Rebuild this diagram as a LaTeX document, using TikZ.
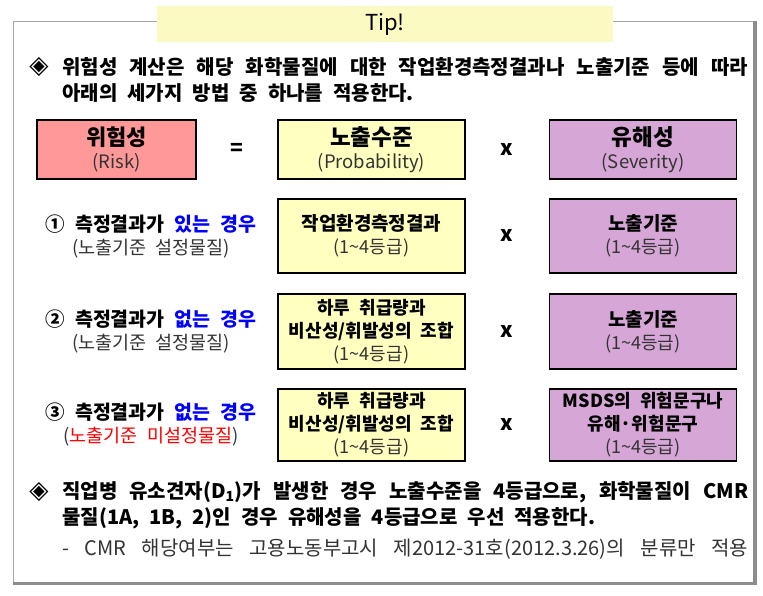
\documentclass[tikz,border=0pt]{standalone}
\usepackage{fontspec}
\setmainfont{Noto Sans CJK KR}[WordSpace=2.2]
\newfontfamily\symfont{DejaVu Sans}
\usetikzlibrary{positioning}
\definecolor{tipyellow}{HTML}{FAFAC2}
\definecolor{riskred}{HTML}{FF9999}
\definecolor{probyellow}{HTML}{FFFFC0}
\definecolor{sevpurple}{HTML}{D6A6D6}
\definecolor{framegray}{HTML}{A6A6A6}
\definecolor{txtgray}{HTML}{333333}
\newcommand{\gradetxt}{{\color{txtgray}(1\textasciitilde 4등급)}}
\begin{document}
\begin{tikzpicture}[x=1pt,y=-1pt,
    line/.style={font=\fontsize{20}{26}\selectfont\bfseries,anchor=west,inner sep=0pt},
    note/.style={font=\fontsize{20}{23}\selectfont,text=txtgray,anchor=west,inner sep=0pt},
    bullet/.style={font=\fontsize{25}{25}\selectfont\symfont,inner sep=0pt},
    calc/.style={draw,line width=1.5pt,minimum width=187pt,align=center,inner sep=0pt,
      font=\fontsize{18}{23}\selectfont},
    riskbox/.style={calc,fill=riskred,minimum width=159pt},
    probbox/.style={calc,fill=probyellow},
    sevbox/.style={calc,fill=sevpurple},
    case/.style={align=center,font=\fontsize{18.5}{23}\selectfont},
    op/.style={font=\fontsize{21}{21}\selectfont\bfseries}]
  \useasboundingbox (0,0) rectangle (763,595);
  % frame with shadow
  \draw[framegray,line width=1pt] (13,21) rectangle (754,582);
  \fill[framegray!85!black] (753,21) rectangle (757,585);
  \fill[framegray!85!black] (13,582) rectangle (757,585);
  \node[fill=tipyellow,minimum width=456pt,minimum height=36pt,
    font=\fontsize{22}{22}\selectfont] (tip) at (385,24) {Tip!};

  \node[bullet] (d1) at (39,67) {◈};
  \node[line] (head1) at (62,67) {\makebox[686pt][s]{위험성 계산은 해당 화학물질에 대한 작업환경측정결과나 노출기준 등에 따라}};
  \node[line] (head2) at (62,93) {아래의 세가지 방법 중 하나를 적용한다.};

  % formula
  \node[riskbox,minimum height=59pt] (risk) at (116.5,149.5)
    {{\fontsize{22}{25}\selectfont\bfseries 위험성}\\{\fontsize{18.5}{23}\selectfont\color{txtgray}(Risk)}};
  \node[probbox,minimum height=59pt] (prob0) at (371.5,149.5)
    {{\fontsize{22.5}{25}\selectfont\bfseries 노출수준}\\{\fontsize{18.5}{23}\selectfont\color{txtgray}(Probability)}};
  \node[sevbox,minimum height=59pt,right=83pt of prob0] (sev0)
    {{\fontsize{22.5}{25}\selectfont\bfseries 유해성}\\{\fontsize{18.5}{23}\selectfont\color{txtgray}(Severity)}};
  \path (risk.east) -- node[op] (eq) {=} (prob0.west);
  \path (prob0.east) -- node[op] (times0) {x} (sev0.west);

  % case 1
  \node[case] (case1) at (151,236)
    {{\fontsize{19.5}{23}\selectfont\bfseries ① 측정결과가 \textcolor{blue}{있는 경우}}\\{\color{txtgray}(노출기준 설정물질)}};
  \node[probbox,minimum height=74pt] (prob1) at (371.5,236)
    {{\fontsize{19}{23}\selectfont\bfseries 작업환경측정결과}\\\gradetxt};
  \node[sevbox,minimum height=74pt,right=83pt of prob1] (sev1)
    {{\fontsize{19}{23}\selectfont\bfseries 노출기준}\\\gradetxt};
  \path (prob1.east) -- node[op] (times1) {x} (sev1.west);

  % case 2
  \node[case] (case2) at (151,331)
    {{\fontsize{19.5}{23}\selectfont\bfseries ② 측정결과가 \textcolor{blue}{없는 경우}}\\{\color{txtgray}(노출기준 설정물질)}};
  \node[probbox,minimum height=75pt] (prob2) at (371.5,331.5)
    {{\bfseries 하루 취급량과}\\{\bfseries 비산성/휘발성의 조합}\\\gradetxt};
  \node[sevbox,minimum height=75pt,right=83pt of prob2] (sev2)
    {{\fontsize{19}{23}\selectfont\bfseries 노출기준}\\\gradetxt};
  \path (prob2.east) -- node[op] (times2) {x} (sev2.west);

  % case 3
  \node[case] (case3) at (151,424)
    {{\fontsize{19.5}{23}\selectfont\bfseries ③ 측정결과가 \textcolor{blue}{없는 경우}}\\{\color{txtgray}(\textcolor{red}{노출기준 미설정물질})}};
  \node[probbox,minimum height=72pt] (prob3) at (371.5,425)
    {{\bfseries 하루 취급량과}\\{\bfseries 비산성/휘발성의 조합}\\\gradetxt};
  \node[sevbox,minimum height=72pt,right=83pt of prob3] (sev3)
    {{\bfseries MSDS의 위험문구나}\\{\bfseries 유해·위험문구}\\\gradetxt};
  \path (prob3.east) -- node[op] (times3) {x} (sev3.west);

  \node[bullet] (d2) at (39,492) {◈};
  \node[line] (foot1) at (62,492) {\makebox[686pt][s]{직업병 유소견자(D\textsubscript{1})가 발생한 경우 노출수준을 4등급으로, 화학물질이 CMR}};
  \node[line] (foot2) at (62,518) {물질(1A, 1B, 2)인 경우 유해성을 4등급으로 우선 적용한다.};
  \node[note] (foot3) at (62,549) {\makebox[686pt][s]{- CMR 해당여부는 고용노동부고시 제2012-31호(2012.3.26)의 분류만 적용}};
\end{tikzpicture}
\end{document}
